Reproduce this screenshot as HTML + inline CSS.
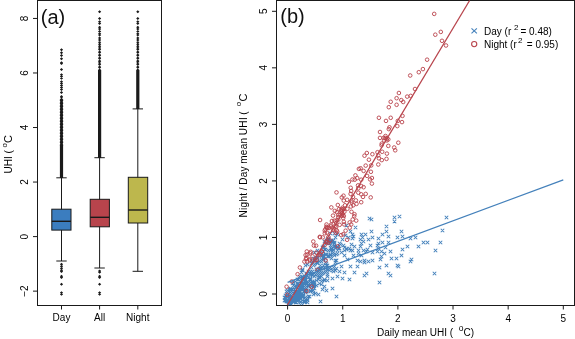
<!DOCTYPE html>
<html><head><meta charset="utf-8"><style>
html,body{margin:0;padding:0;background:#fff;}
svg{display:block;will-change:transform;}
text{white-space:pre;}
.t{font-family:"Liberation Sans",sans-serif;font-size:10px;fill:#000;}
.big{font-family:"Liberation Sans",sans-serif;font-size:20px;fill:#111;}
</style></head><body>
<svg width="575" height="339" viewBox="0 0 575 339">
<rect x="37.5" y="0.5" width="124" height="305" fill="none" stroke="#1a1a1a" stroke-width="1"/>
<line x1="33" y1="18.44" x2="37.5" y2="18.44" stroke="#1a1a1a" stroke-width="1"/>
<text transform="translate(27.8,18.44) rotate(-90)" text-anchor="middle" class="t">8</text>
<line x1="33" y1="72.98" x2="37.5" y2="72.98" stroke="#1a1a1a" stroke-width="1"/>
<text transform="translate(27.8,72.98) rotate(-90)" text-anchor="middle" class="t">6</text>
<line x1="33" y1="127.52" x2="37.5" y2="127.52" stroke="#1a1a1a" stroke-width="1"/>
<text transform="translate(27.8,127.52) rotate(-90)" text-anchor="middle" class="t">4</text>
<line x1="33" y1="182.06" x2="37.5" y2="182.06" stroke="#1a1a1a" stroke-width="1"/>
<text transform="translate(27.8,182.06) rotate(-90)" text-anchor="middle" class="t">2</text>
<line x1="33" y1="236.60" x2="37.5" y2="236.60" stroke="#1a1a1a" stroke-width="1"/>
<text transform="translate(27.8,236.60) rotate(-90)" text-anchor="middle" class="t">0</text>
<line x1="33" y1="291.14" x2="37.5" y2="291.14" stroke="#1a1a1a" stroke-width="1"/>
<text transform="translate(27.8,291.14) rotate(-90)" text-anchor="middle" class="t">−2</text>
<text transform="translate(12.2,173.5) rotate(-90)" class="t">UHI ( <tspan dy="-5" font-size="8">o</tspan><tspan dy="5" font-size="11">C</tspan></text>
<line x1="61.5" y1="305.5" x2="61.5" y2="309.5" stroke="#1a1a1a" stroke-width="1"/>
<text x="61.5" y="321.4" text-anchor="middle" class="t">Day</text>
<line x1="99.6" y1="305.5" x2="99.6" y2="309.5" stroke="#1a1a1a" stroke-width="1"/>
<text x="99.6" y="321.4" text-anchor="middle" class="t">All</text>
<line x1="137.8" y1="305.5" x2="137.8" y2="309.5" stroke="#1a1a1a" stroke-width="1"/>
<text x="137.8" y="321.4" text-anchor="middle" class="t">Night</text>
<text x="40.8" y="23.9" class="big">(a)</text>
<path d="M61.5,99V146" stroke="#1a1a1a" stroke-width="2.6"/>
<path d="M61.50,48.20L63.10,49.70L61.50,51.20L59.90,49.70ZM61.50,51.30L63.10,52.80L61.50,54.30L59.90,52.80ZM61.50,54.10L63.10,55.60L61.50,57.10L59.90,55.60ZM61.50,57.20L63.10,58.70L61.50,60.20L59.90,58.70ZM61.50,61.20L63.10,62.70L61.50,64.20L59.90,62.70ZM61.50,62.00L63.10,63.50L61.50,65.00L59.90,63.50ZM61.50,67.90L63.10,69.40L61.50,70.90L59.90,69.40ZM61.50,73.20L63.10,74.70L61.50,76.20L59.90,74.70ZM61.50,75.00L63.10,76.50L61.50,78.00L59.90,76.50ZM61.50,76.80L63.10,78.30L61.50,79.80L59.90,78.30ZM61.50,80.30L63.10,81.80L61.50,83.30L59.90,81.80ZM61.50,82.00L63.10,83.50L61.50,85.00L59.90,83.50ZM61.50,84.00L63.10,85.50L61.50,87.00L59.90,85.50ZM61.50,86.00L63.10,87.50L61.50,89.00L59.90,87.50ZM61.50,88.00L63.10,89.50L61.50,91.00L59.90,89.50ZM61.50,90.90L63.10,92.40L61.50,93.90L59.90,92.40ZM61.50,95.00L63.10,96.50L61.50,98.00L59.90,96.50ZM61.50,96.30L63.10,97.80L61.50,99.30L59.90,97.80ZM61.5,97.40L63.5,99.00L61.5,100.60L59.5,99.00ZM61.5,98.90L63.5,100.50L61.5,102.10L59.5,100.50ZM61.5,100.40L63.5,102.00L61.5,103.60L59.5,102.00ZM61.5,101.90L63.5,103.50L61.5,105.10L59.5,103.50ZM61.5,103.40L63.5,105.00L61.5,106.60L59.5,105.00ZM61.5,104.90L63.5,106.50L61.5,108.10L59.5,106.50ZM61.5,106.40L63.5,108.00L61.5,109.60L59.5,108.00ZM61.5,107.90L63.5,109.50L61.5,111.10L59.5,109.50ZM61.5,109.40L63.5,111.00L61.5,112.60L59.5,111.00ZM61.5,110.90L63.5,112.50L61.5,114.10L59.5,112.50ZM61.5,112.40L63.5,114.00L61.5,115.60L59.5,114.00ZM61.5,113.90L63.5,115.50L61.5,117.10L59.5,115.50ZM61.5,115.40L63.5,117.00L61.5,118.60L59.5,117.00ZM61.5,116.90L63.5,118.50L61.5,120.10L59.5,118.50ZM61.5,118.40L63.5,120.00L61.5,121.60L59.5,120.00ZM61.5,119.90L63.5,121.50L61.5,123.10L59.5,121.50ZM61.5,121.40L63.5,123.00L61.5,124.60L59.5,123.00ZM61.5,122.90L63.5,124.50L61.5,126.10L59.5,124.50ZM61.5,124.40L63.5,126.00L61.5,127.60L59.5,126.00ZM61.5,125.90L63.5,127.50L61.5,129.10L59.5,127.50ZM61.5,127.40L63.5,129.00L61.5,130.60L59.5,129.00ZM61.5,128.90L63.5,130.50L61.5,132.10L59.5,130.50ZM61.5,130.40L63.5,132.00L61.5,133.60L59.5,132.00ZM61.5,131.90L63.5,133.50L61.5,135.10L59.5,133.50ZM61.5,133.40L63.5,135.00L61.5,136.60L59.5,135.00ZM61.5,134.90L63.5,136.50L61.5,138.10L59.5,136.50ZM61.5,136.40L63.5,138.00L61.5,139.60L59.5,138.00ZM61.5,137.90L63.5,139.50L61.5,141.10L59.5,139.50ZM61.5,139.40L63.5,141.00L61.5,142.60L59.5,141.00ZM61.5,140.90L63.5,142.50L61.5,144.10L59.5,142.50ZM61.5,142.40L63.5,144.00L61.5,145.60L59.5,144.00ZM61.5,143.90L63.5,145.50L61.5,147.10L59.5,145.50ZM61.50,262.80L63.10,264.30L61.50,265.80L59.90,264.30ZM61.50,264.80L63.10,266.30L61.50,267.80L59.90,266.30ZM61.50,266.80L63.10,268.30L61.50,269.80L59.90,268.30ZM61.50,268.80L63.10,270.30L61.50,271.80L59.90,270.30ZM61.50,270.10L63.10,271.60L61.50,273.10L59.90,271.60ZM61.50,274.70L63.10,276.20L61.50,277.70L59.90,276.20ZM61.50,276.10L63.10,277.60L61.50,279.10L59.90,277.60ZM61.50,282.70L63.10,284.20L61.50,285.70L59.90,284.20ZM61.50,291.30L63.10,292.80L61.50,294.30L59.90,292.80ZM61.50,292.70L63.10,294.20L61.50,295.70L59.90,294.20ZM99.60,10.20L101.20,11.70L99.60,13.20L98.00,11.70ZM99.60,17.00L101.20,18.50L99.60,20.00L98.00,18.50ZM99.60,20.30L101.20,21.80L99.60,23.30L98.00,21.80ZM99.60,22.10L101.20,23.60L99.60,25.10L98.00,23.60ZM99.60,25.80L101.20,27.30L99.60,28.80L98.00,27.30ZM99.60,27.50L101.20,29.00L99.60,30.50L98.00,29.00ZM99.60,30.00L101.20,31.50L99.60,33.00L98.00,31.50ZM99.60,31.80L101.20,33.30L99.60,34.80L98.00,33.30ZM99.60,33.50L101.20,35.00L99.60,36.50L98.00,35.00ZM99.60,36.50L101.20,38.00L99.60,39.50L98.00,38.00ZM99.60,38.50L101.20,40.00L99.60,41.50L98.00,40.00ZM99.60,40.70L101.20,42.20L99.60,43.70L98.00,42.20ZM99.60,42.70L101.20,44.20L99.60,45.70L98.00,44.20ZM99.60,44.70L101.20,46.20L99.60,47.70L98.00,46.20ZM99.60,46.50L101.20,48.00L99.60,49.50L98.00,48.00ZM99.60,48.00L101.20,49.50L99.60,51.00L98.00,49.50ZM99.60,49.50L101.20,51.00L99.60,52.50L98.00,51.00ZM99.60,51.00L101.20,52.50L99.60,54.00L98.00,52.50ZM99.60,52.50L101.20,54.00L99.60,55.50L98.00,54.00ZM99.60,54.00L101.20,55.50L99.60,57.00L98.00,55.50ZM99.60,55.50L101.20,57.00L99.60,58.50L98.00,57.00ZM99.60,57.00L101.20,58.50L99.60,60.00L98.00,58.50ZM99.60,58.50L101.20,60.00L99.60,61.50L98.00,60.00ZM99.60,60.00L101.20,61.50L99.60,63.00L98.00,61.50ZM99.60,61.50L101.20,63.00L99.60,64.50L98.00,63.00ZM99.60,63.00L101.20,64.50L99.60,66.00L98.00,64.50ZM99.60,64.50L101.20,66.00L99.60,67.50L98.00,66.00ZM99.60,66.00L101.20,67.50L99.60,69.00L98.00,67.50ZM99.60,67.50L101.20,69.00L99.60,70.50L98.00,69.00ZM99.60,269.40L101.20,270.90L99.60,272.40L98.00,270.90ZM99.60,270.80L101.20,272.30L99.60,273.80L98.00,272.30ZM99.60,274.70L101.20,276.20L99.60,277.70L98.00,276.20ZM99.60,276.10L101.20,277.60L99.60,279.10L98.00,277.60ZM99.60,282.70L101.20,284.20L99.60,285.70L98.00,284.20ZM99.60,291.30L101.20,292.80L99.60,294.30L98.00,292.80ZM99.60,292.70L101.20,294.20L99.60,295.70L98.00,294.20ZM137.80,10.20L139.40,11.70L137.80,13.20L136.20,11.70ZM137.80,17.00L139.40,18.50L137.80,20.00L136.20,18.50ZM137.80,20.30L139.40,21.80L137.80,23.30L136.20,21.80ZM137.80,22.10L139.40,23.60L137.80,25.10L136.20,23.60ZM137.80,25.80L139.40,27.30L137.80,28.80L136.20,27.30ZM137.80,27.50L139.40,29.00L137.80,30.50L136.20,29.00ZM137.80,30.00L139.40,31.50L137.80,33.00L136.20,31.50ZM137.80,31.80L139.40,33.30L137.80,34.80L136.20,33.30ZM137.80,33.50L139.40,35.00L137.80,36.50L136.20,35.00ZM137.80,36.50L139.40,38.00L137.80,39.50L136.20,38.00ZM137.80,38.50L139.40,40.00L137.80,41.50L136.20,40.00ZM137.80,40.70L139.40,42.20L137.80,43.70L136.20,42.20ZM137.80,42.70L139.40,44.20L137.80,45.70L136.20,44.20ZM137.80,44.70L139.40,46.20L137.80,47.70L136.20,46.20ZM137.80,46.50L139.40,48.00L137.80,49.50L136.20,48.00ZM137.80,48.00L139.40,49.50L137.80,51.00L136.20,49.50ZM137.80,49.50L139.40,51.00L137.80,52.50L136.20,51.00ZM137.80,51.00L139.40,52.50L137.80,54.00L136.20,52.50ZM137.80,52.50L139.40,54.00L137.80,55.50L136.20,54.00ZM137.80,54.00L139.40,55.50L137.80,57.00L136.20,55.50ZM137.80,55.50L139.40,57.00L137.80,58.50L136.20,57.00ZM137.80,57.00L139.40,58.50L137.80,60.00L136.20,58.50ZM137.80,58.50L139.40,60.00L137.80,61.50L136.20,60.00ZM137.80,60.00L139.40,61.50L137.80,63.00L136.20,61.50ZM137.80,61.50L139.40,63.00L137.80,64.50L136.20,63.00ZM137.80,63.00L139.40,64.50L137.80,66.00L136.20,64.50ZM137.80,64.50L139.40,66.00L137.80,67.50L136.20,66.00ZM137.80,66.00L139.40,67.50L137.80,69.00L136.20,67.50ZM137.80,67.50L139.40,69.00L137.80,70.50L136.20,69.00Z" stroke="none" fill="#1a1a1a"/>
<path d="M61.5,146V178M99.6,70V158M137.8,70V109" stroke="#1a1a1a" stroke-width="3.2" fill="none"/>
<line x1="61.5" y1="177.8" x2="61.5" y2="261" stroke="#1a1a1a" stroke-width="1"/>
<line x1="56.3" y1="177.8" x2="66.7" y2="177.8" stroke="#1a1a1a" stroke-width="1"/>
<line x1="56.3" y1="261" x2="66.7" y2="261" stroke="#1a1a1a" stroke-width="1"/>
<rect x="51.8" y="209.2" width="19.200000000000003" height="20.900000000000006" fill="#3b7dbf" stroke="#1a1a1a" stroke-width="1"/>
<line x1="51.8" y1="221.3" x2="71" y2="221.3" stroke="#1a1a1a" stroke-width="1.4"/>
<line x1="99.6" y1="157.7" x2="99.6" y2="268" stroke="#1a1a1a" stroke-width="1"/>
<line x1="94.39999999999999" y1="157.7" x2="104.8" y2="157.7" stroke="#1a1a1a" stroke-width="1"/>
<line x1="94.39999999999999" y1="268" x2="104.8" y2="268" stroke="#1a1a1a" stroke-width="1"/>
<rect x="90.2" y="199.3" width="19.200000000000003" height="27.5" fill="#b8444c" stroke="#1a1a1a" stroke-width="1"/>
<line x1="90.2" y1="217.3" x2="109.4" y2="217.3" stroke="#1a1a1a" stroke-width="1.4"/>
<line x1="137.8" y1="108.9" x2="137.8" y2="271.3" stroke="#1a1a1a" stroke-width="1"/>
<line x1="132.60000000000002" y1="108.9" x2="143.0" y2="108.9" stroke="#1a1a1a" stroke-width="1"/>
<line x1="132.60000000000002" y1="271.3" x2="143.0" y2="271.3" stroke="#1a1a1a" stroke-width="1"/>
<rect x="128.3" y="177.3" width="19.399999999999977" height="45.69999999999999" fill="#bdb74d" stroke="#1a1a1a" stroke-width="1"/>
<line x1="128.3" y1="210" x2="147.7" y2="210" stroke="#1a1a1a" stroke-width="1.4"/>
<rect x="276.5" y="0.5" width="298" height="305" fill="none" stroke="#1a1a1a" stroke-width="1"/>
<line x1="287.60" y1="305.5" x2="287.60" y2="309.5" stroke="#1a1a1a" stroke-width="1"/>
<text x="287.60" y="322" text-anchor="middle" class="t">0</text>
<line x1="272" y1="294.00" x2="276.5" y2="294.00" stroke="#1a1a1a" stroke-width="1"/>
<text transform="translate(267,294.00) rotate(-90)" text-anchor="middle" class="t">0</text>
<line x1="342.74" y1="305.5" x2="342.74" y2="309.5" stroke="#1a1a1a" stroke-width="1"/>
<text x="342.74" y="322" text-anchor="middle" class="t">1</text>
<line x1="272" y1="237.46" x2="276.5" y2="237.46" stroke="#1a1a1a" stroke-width="1"/>
<text transform="translate(267,237.46) rotate(-90)" text-anchor="middle" class="t">1</text>
<line x1="397.88" y1="305.5" x2="397.88" y2="309.5" stroke="#1a1a1a" stroke-width="1"/>
<text x="397.88" y="322" text-anchor="middle" class="t">2</text>
<line x1="272" y1="180.92" x2="276.5" y2="180.92" stroke="#1a1a1a" stroke-width="1"/>
<text transform="translate(267,180.92) rotate(-90)" text-anchor="middle" class="t">2</text>
<line x1="453.02" y1="305.5" x2="453.02" y2="309.5" stroke="#1a1a1a" stroke-width="1"/>
<text x="453.02" y="322" text-anchor="middle" class="t">3</text>
<line x1="272" y1="124.38" x2="276.5" y2="124.38" stroke="#1a1a1a" stroke-width="1"/>
<text transform="translate(267,124.38) rotate(-90)" text-anchor="middle" class="t">3</text>
<line x1="508.16" y1="305.5" x2="508.16" y2="309.5" stroke="#1a1a1a" stroke-width="1"/>
<text x="508.16" y="322" text-anchor="middle" class="t">4</text>
<line x1="272" y1="67.84" x2="276.5" y2="67.84" stroke="#1a1a1a" stroke-width="1"/>
<text transform="translate(267,67.84) rotate(-90)" text-anchor="middle" class="t">4</text>
<line x1="563.30" y1="305.5" x2="563.30" y2="309.5" stroke="#1a1a1a" stroke-width="1"/>
<text x="563.30" y="322" text-anchor="middle" class="t">5</text>
<line x1="272" y1="11.30" x2="276.5" y2="11.30" stroke="#1a1a1a" stroke-width="1"/>
<text transform="translate(267,11.30) rotate(-90)" text-anchor="middle" class="t">5</text>
<text x="377" y="336" class="t">Daily mean UHI (  <tspan dy="-5.5" font-size="8.5">o</tspan><tspan dy="5.5">C)</tspan></text>
<text transform="translate(246.6,217.5) rotate(-90)" class="t" letter-spacing="0.3" word-spacing="-0.7">Night / Day mean UHI (  <tspan dy="-5.5" font-size="8">o</tspan><tspan dy="5.5" font-size="11">C</tspan></text>
<text x="280.3" y="23.2" class="big">(b)</text>
<path d="M328.75,231.75l3.5,3.5m0,-3.5l-3.5,3.5M332.75,231.75l3.5,3.5m0,-3.5l-3.5,3.5M369.75,217.75l3.5,3.5m0,-3.5l-3.5,3.5M353.75,225.75l3.5,3.5m0,-3.5l-3.5,3.5M344.75,223.75l3.5,3.5m0,-3.5l-3.5,3.5M348.75,229.75l3.5,3.5m0,-3.5l-3.5,3.5M369.75,229.75l3.5,3.5m0,-3.5l-3.5,3.5M350.75,232.75l3.5,3.5m0,-3.5l-3.5,3.5M359.75,232.75l3.5,3.5m0,-3.5l-3.5,3.5M363.75,232.75l3.5,3.5m0,-3.5l-3.5,3.5M370.75,235.75l3.5,3.5m0,-3.5l-3.5,3.5M360.75,235.75l3.5,3.5m0,-3.5l-3.5,3.5M343.75,233.75l3.5,3.5m0,-3.5l-3.5,3.5M335.75,232.75l3.5,3.5m0,-3.5l-3.5,3.5M397.75,214.75l3.5,3.5m0,-3.5l-3.5,3.5M392.75,215.75l3.5,3.5m0,-3.5l-3.5,3.5M392.75,219.75l3.5,3.5m0,-3.5l-3.5,3.5M384.75,224.75l3.5,3.5m0,-3.5l-3.5,3.5M384.75,229.75l3.5,3.5m0,-3.5l-3.5,3.5M399.75,229.75l3.5,3.5m0,-3.5l-3.5,3.5M380.75,232.75l3.5,3.5m0,-3.5l-3.5,3.5M386.75,234.75l3.5,3.5m0,-3.5l-3.5,3.5M376.75,236.75l3.5,3.5m0,-3.5l-3.5,3.5M395.75,235.75l3.5,3.5m0,-3.5l-3.5,3.5M400.75,234.75l3.5,3.5m0,-3.5l-3.5,3.5M408.75,236.75l3.5,3.5m0,-3.5l-3.5,3.5M413.75,235.75l3.5,3.5m0,-3.5l-3.5,3.5M421.75,240.75l3.5,3.5m0,-3.5l-3.5,3.5M425.75,240.75l3.5,3.5m0,-3.5l-3.5,3.5M386.75,240.75l3.5,3.5m0,-3.5l-3.5,3.5M376.75,241.75l3.5,3.5m0,-3.5l-3.5,3.5M380.75,240.75l3.5,3.5m0,-3.5l-3.5,3.5M368.75,243.75l3.5,3.5m0,-3.5l-3.5,3.5M405.75,244.75l3.5,3.5m0,-3.5l-3.5,3.5M416.75,244.75l3.5,3.5m0,-3.5l-3.5,3.5M383.75,245.75l3.5,3.5m0,-3.5l-3.5,3.5M376.75,246.75l3.5,3.5m0,-3.5l-3.5,3.5M400.75,247.75l3.5,3.5m0,-3.5l-3.5,3.5M379.75,249.75l3.5,3.5m0,-3.5l-3.5,3.5M375.75,249.75l3.5,3.5m0,-3.5l-3.5,3.5M388.75,249.75l3.5,3.5m0,-3.5l-3.5,3.5M382.75,251.75l3.5,3.5m0,-3.5l-3.5,3.5M370.75,250.75l3.5,3.5m0,-3.5l-3.5,3.5M399.75,253.75l3.5,3.5m0,-3.5l-3.5,3.5M379.75,254.75l3.5,3.5m0,-3.5l-3.5,3.5M389.75,256.75l3.5,3.5m0,-3.5l-3.5,3.5M394.75,256.75l3.5,3.5m0,-3.5l-3.5,3.5M409.75,257.75l3.5,3.5m0,-3.5l-3.5,3.5M444.75,215.75l3.5,3.5m0,-3.5l-3.5,3.5M440.75,228.75l3.5,3.5m0,-3.5l-3.5,3.5M438.75,240.75l3.5,3.5m0,-3.5l-3.5,3.5M433.75,248.75l3.5,3.5m0,-3.5l-3.5,3.5M432.75,271.75l3.5,3.5m0,-3.5l-3.5,3.5M359.75,253.75l3.5,3.5m0,-3.5l-3.5,3.5M378.75,257.75l3.5,3.5m0,-3.5l-3.5,3.5M408.75,259.75l3.5,3.5m0,-3.5l-3.5,3.5M370.75,258.75l3.5,3.5m0,-3.5l-3.5,3.5M366.75,259.75l3.5,3.5m0,-3.5l-3.5,3.5M362.75,260.75l3.5,3.5m0,-3.5l-3.5,3.5M358.75,259.75l3.5,3.5m0,-3.5l-3.5,3.5M384.75,263.75l3.5,3.5m0,-3.5l-3.5,3.5M377.75,265.75l3.5,3.5m0,-3.5l-3.5,3.5M395.75,263.75l3.5,3.5m0,-3.5l-3.5,3.5M396.75,264.75l3.5,3.5m0,-3.5l-3.5,3.5M386.75,271.75l3.5,3.5m0,-3.5l-3.5,3.5M388.75,273.75l3.5,3.5m0,-3.5l-3.5,3.5M364.75,271.75l3.5,3.5m0,-3.5l-3.5,3.5M362.75,273.75l3.5,3.5m0,-3.5l-3.5,3.5M377.75,280.75l3.5,3.5m0,-3.5l-3.5,3.5M318.75,299.75l3.5,3.5m0,-3.5l-3.5,3.5M305.75,295.75l3.5,3.5m0,-3.5l-3.5,3.5M298.75,292.75l3.5,3.5m0,-3.5l-3.5,3.5M285.75,297.75l3.5,3.5m0,-3.5l-3.5,3.5M310.75,289.75l3.5,3.5m0,-3.5l-3.5,3.5M319.75,282.75l3.5,3.5m0,-3.5l-3.5,3.5M350.75,236.75l3.5,3.5m0,-3.5l-3.5,3.5M340.75,237.75l3.5,3.5m0,-3.5l-3.5,3.5M359.75,241.75l3.5,3.5m0,-3.5l-3.5,3.5M342.75,245.75l3.5,3.5m0,-3.5l-3.5,3.5M352.75,244.75l3.5,3.5m0,-3.5l-3.5,3.5M375.75,243.75l3.5,3.5m0,-3.5l-3.5,3.5M335.75,248.75l3.5,3.5m0,-3.5l-3.5,3.5M348.75,248.75l3.5,3.5m0,-3.5l-3.5,3.5M356.75,248.75l3.5,3.5m0,-3.5l-3.5,3.5M364.75,249.75l3.5,3.5m0,-3.5l-3.5,3.5M332.75,253.75l3.5,3.5m0,-3.5l-3.5,3.5M342.75,253.75l3.5,3.5m0,-3.5l-3.5,3.5M351.75,253.75l3.5,3.5m0,-3.5l-3.5,3.5M334.75,258.75l3.5,3.5m0,-3.5l-3.5,3.5M345.75,257.75l3.5,3.5m0,-3.5l-3.5,3.5M355.75,258.75l3.5,3.5m0,-3.5l-3.5,3.5M362.75,258.75l3.5,3.5m0,-3.5l-3.5,3.5M348.75,264.75l3.5,3.5m0,-3.5l-3.5,3.5M332.75,264.75l3.5,3.5m0,-3.5l-3.5,3.5M339.75,264.75l3.5,3.5m0,-3.5l-3.5,3.5M355.75,264.75l3.5,3.5m0,-3.5l-3.5,3.5M342.75,270.75l3.5,3.5m0,-3.5l-3.5,3.5M352.75,270.75l3.5,3.5m0,-3.5l-3.5,3.5M331.75,269.75l3.5,3.5m0,-3.5l-3.5,3.5M335.75,274.75l3.5,3.5m0,-3.5l-3.5,3.5M340.75,276.75l3.5,3.5m0,-3.5l-3.5,3.5M347.75,277.75l3.5,3.5m0,-3.5l-3.5,3.5M330.75,276.75l3.5,3.5m0,-3.5l-3.5,3.5M330.75,286.75l3.5,3.5m0,-3.5l-3.5,3.5M334.75,294.75l3.5,3.5m0,-3.5l-3.5,3.5M351.75,234.75l3.5,3.5m0,-3.5l-3.5,3.5M333.75,235.75l3.5,3.5m0,-3.5l-3.5,3.5M346.75,235.75l3.5,3.5m0,-3.5l-3.5,3.5M358.75,237.75l3.5,3.5m0,-3.5l-3.5,3.5M361.75,239.75l3.5,3.5m0,-3.5l-3.5,3.5M366.75,237.75l3.5,3.5m0,-3.5l-3.5,3.5M349.75,242.75l3.5,3.5m0,-3.5l-3.5,3.5M358.75,244.75l3.5,3.5m0,-3.5l-3.5,3.5M335.75,245.75l3.5,3.5m0,-3.5l-3.5,3.5M331.75,247.75l3.5,3.5m0,-3.5l-3.5,3.5M350.75,248.75l3.5,3.5m0,-3.5l-3.5,3.5M361.75,248.75l3.5,3.5m0,-3.5l-3.5,3.5M365.75,247.75l3.5,3.5m0,-3.5l-3.5,3.5M339.75,250.75l3.5,3.5m0,-3.5l-3.5,3.5M356.75,251.75l3.5,3.5m0,-3.5l-3.5,3.5M329.75,244.75l3.5,3.5m0,-3.5l-3.5,3.5M367.75,216.75l3.5,3.5m0,-3.5l-3.5,3.5M303.75,290.75l3.5,3.5m0,-3.5l-3.5,3.5M306.75,272.75l3.5,3.5m0,-3.5l-3.5,3.5M308.75,276.75l3.5,3.5m0,-3.5l-3.5,3.5M286.75,299.75l3.5,3.5m0,-3.5l-3.5,3.5M291.75,299.75l3.5,3.5m0,-3.5l-3.5,3.5M304.75,281.75l3.5,3.5m0,-3.5l-3.5,3.5M291.75,291.75l3.5,3.5m0,-3.5l-3.5,3.5M320.75,271.75l3.5,3.5m0,-3.5l-3.5,3.5M298.75,281.75l3.5,3.5m0,-3.5l-3.5,3.5M344.75,247.75l3.5,3.5m0,-3.5l-3.5,3.5M300.75,291.75l3.5,3.5m0,-3.5l-3.5,3.5M295.75,299.75l3.5,3.5m0,-3.5l-3.5,3.5M326.75,254.75l3.5,3.5m0,-3.5l-3.5,3.5M285.75,290.75l3.5,3.5m0,-3.5l-3.5,3.5M296.75,281.75l3.5,3.5m0,-3.5l-3.5,3.5M310.75,273.75l3.5,3.5m0,-3.5l-3.5,3.5M294.75,294.75l3.5,3.5m0,-3.5l-3.5,3.5M310.75,259.75l3.5,3.5m0,-3.5l-3.5,3.5M312.75,271.75l3.5,3.5m0,-3.5l-3.5,3.5M300.75,276.75l3.5,3.5m0,-3.5l-3.5,3.5M327.75,268.75l3.5,3.5m0,-3.5l-3.5,3.5M288.75,287.75l3.5,3.5m0,-3.5l-3.5,3.5M321.75,245.75l3.5,3.5m0,-3.5l-3.5,3.5M313.75,256.75l3.5,3.5m0,-3.5l-3.5,3.5M302.75,281.75l3.5,3.5m0,-3.5l-3.5,3.5M302.75,274.75l3.5,3.5m0,-3.5l-3.5,3.5M283.75,298.75l3.5,3.5m0,-3.5l-3.5,3.5M321.75,245.75l3.5,3.5m0,-3.5l-3.5,3.5M319.75,274.75l3.5,3.5m0,-3.5l-3.5,3.5M332.75,244.75l3.5,3.5m0,-3.5l-3.5,3.5M303.75,276.75l3.5,3.5m0,-3.5l-3.5,3.5M314.75,260.75l3.5,3.5m0,-3.5l-3.5,3.5M325.75,272.75l3.5,3.5m0,-3.5l-3.5,3.5M296.75,289.75l3.5,3.5m0,-3.5l-3.5,3.5M300.75,282.75l3.5,3.5m0,-3.5l-3.5,3.5M303.75,277.75l3.5,3.5m0,-3.5l-3.5,3.5M294.75,296.75l3.5,3.5m0,-3.5l-3.5,3.5M321.75,257.75l3.5,3.5m0,-3.5l-3.5,3.5M291.75,297.75l3.5,3.5m0,-3.5l-3.5,3.5M331.75,252.75l3.5,3.5m0,-3.5l-3.5,3.5M282.75,295.75l3.5,3.5m0,-3.5l-3.5,3.5M328.75,248.75l3.5,3.5m0,-3.5l-3.5,3.5M325.75,254.75l3.5,3.5m0,-3.5l-3.5,3.5M298.75,279.75l3.5,3.5m0,-3.5l-3.5,3.5M311.75,292.75l3.5,3.5m0,-3.5l-3.5,3.5M293.75,295.75l3.5,3.5m0,-3.5l-3.5,3.5M310.75,279.75l3.5,3.5m0,-3.5l-3.5,3.5M310.75,269.75l3.5,3.5m0,-3.5l-3.5,3.5M303.75,281.75l3.5,3.5m0,-3.5l-3.5,3.5M309.75,258.75l3.5,3.5m0,-3.5l-3.5,3.5M299.75,270.75l3.5,3.5m0,-3.5l-3.5,3.5M283.75,296.75l3.5,3.5m0,-3.5l-3.5,3.5M329.75,247.75l3.5,3.5m0,-3.5l-3.5,3.5M299.75,281.75l3.5,3.5m0,-3.5l-3.5,3.5M314.75,267.75l3.5,3.5m0,-3.5l-3.5,3.5M294.75,296.75l3.5,3.5m0,-3.5l-3.5,3.5M299.75,286.75l3.5,3.5m0,-3.5l-3.5,3.5M292.75,296.75l3.5,3.5m0,-3.5l-3.5,3.5M289.75,298.75l3.5,3.5m0,-3.5l-3.5,3.5M326.75,248.75l3.5,3.5m0,-3.5l-3.5,3.5M314.75,269.75l3.5,3.5m0,-3.5l-3.5,3.5M303.75,287.75l3.5,3.5m0,-3.5l-3.5,3.5M308.75,289.75l3.5,3.5m0,-3.5l-3.5,3.5M341.75,243.75l3.5,3.5m0,-3.5l-3.5,3.5M302.75,276.75l3.5,3.5m0,-3.5l-3.5,3.5M290.75,298.75l3.5,3.5m0,-3.5l-3.5,3.5M298.75,285.75l3.5,3.5m0,-3.5l-3.5,3.5M289.75,295.75l3.5,3.5m0,-3.5l-3.5,3.5M316.75,277.75l3.5,3.5m0,-3.5l-3.5,3.5M332.75,240.75l3.5,3.5m0,-3.5l-3.5,3.5M323.75,247.75l3.5,3.5m0,-3.5l-3.5,3.5M295.75,281.75l3.5,3.5m0,-3.5l-3.5,3.5M293.75,296.75l3.5,3.5m0,-3.5l-3.5,3.5M312.75,250.75l3.5,3.5m0,-3.5l-3.5,3.5M300.75,287.75l3.5,3.5m0,-3.5l-3.5,3.5M344.75,246.75l3.5,3.5m0,-3.5l-3.5,3.5M328.75,252.75l3.5,3.5m0,-3.5l-3.5,3.5M289.75,289.75l3.5,3.5m0,-3.5l-3.5,3.5M288.75,301.75l3.5,3.5m0,-3.5l-3.5,3.5M287.75,300.75l3.5,3.5m0,-3.5l-3.5,3.5M320.75,265.75l3.5,3.5m0,-3.5l-3.5,3.5M337.75,241.75l3.5,3.5m0,-3.5l-3.5,3.5M326.75,239.75l3.5,3.5m0,-3.5l-3.5,3.5M297.75,294.75l3.5,3.5m0,-3.5l-3.5,3.5M296.75,295.75l3.5,3.5m0,-3.5l-3.5,3.5M335.75,251.75l3.5,3.5m0,-3.5l-3.5,3.5M322.75,254.75l3.5,3.5m0,-3.5l-3.5,3.5M283.75,295.75l3.5,3.5m0,-3.5l-3.5,3.5M314.75,255.75l3.5,3.5m0,-3.5l-3.5,3.5M321.75,255.75l3.5,3.5m0,-3.5l-3.5,3.5M304.75,289.75l3.5,3.5m0,-3.5l-3.5,3.5M311.75,288.75l3.5,3.5m0,-3.5l-3.5,3.5M289.75,293.75l3.5,3.5m0,-3.5l-3.5,3.5M333.75,260.75l3.5,3.5m0,-3.5l-3.5,3.5M299.75,301.75l3.5,3.5m0,-3.5l-3.5,3.5M296.75,283.75l3.5,3.5m0,-3.5l-3.5,3.5M287.75,301.75l3.5,3.5m0,-3.5l-3.5,3.5M325.75,237.75l3.5,3.5m0,-3.5l-3.5,3.5M322.75,239.75l3.5,3.5m0,-3.5l-3.5,3.5M311.75,285.75l3.5,3.5m0,-3.5l-3.5,3.5M285.75,288.75l3.5,3.5m0,-3.5l-3.5,3.5M294.75,290.75l3.5,3.5m0,-3.5l-3.5,3.5M315.75,272.75l3.5,3.5m0,-3.5l-3.5,3.5M293.75,289.75l3.5,3.5m0,-3.5l-3.5,3.5M329.75,246.75l3.5,3.5m0,-3.5l-3.5,3.5M291.75,280.75l3.5,3.5m0,-3.5l-3.5,3.5M329.75,246.75l3.5,3.5m0,-3.5l-3.5,3.5M309.75,284.75l3.5,3.5m0,-3.5l-3.5,3.5M304.75,271.75l3.5,3.5m0,-3.5l-3.5,3.5M314.75,278.75l3.5,3.5m0,-3.5l-3.5,3.5M293.75,295.75l3.5,3.5m0,-3.5l-3.5,3.5M301.75,275.75l3.5,3.5m0,-3.5l-3.5,3.5M311.75,256.75l3.5,3.5m0,-3.5l-3.5,3.5M305.75,273.75l3.5,3.5m0,-3.5l-3.5,3.5M309.75,272.75l3.5,3.5m0,-3.5l-3.5,3.5M306.75,269.75l3.5,3.5m0,-3.5l-3.5,3.5M293.75,290.75l3.5,3.5m0,-3.5l-3.5,3.5M317.75,281.75l3.5,3.5m0,-3.5l-3.5,3.5M310.75,272.75l3.5,3.5m0,-3.5l-3.5,3.5M303.75,263.75l3.5,3.5m0,-3.5l-3.5,3.5M315.75,261.75l3.5,3.5m0,-3.5l-3.5,3.5M297.75,274.75l3.5,3.5m0,-3.5l-3.5,3.5M327.75,241.75l3.5,3.5m0,-3.5l-3.5,3.5M327.75,268.75l3.5,3.5m0,-3.5l-3.5,3.5M320.75,278.75l3.5,3.5m0,-3.5l-3.5,3.5M287.75,294.75l3.5,3.5m0,-3.5l-3.5,3.5M288.75,296.75l3.5,3.5m0,-3.5l-3.5,3.5M296.75,292.75l3.5,3.5m0,-3.5l-3.5,3.5M284.75,296.75l3.5,3.5m0,-3.5l-3.5,3.5M290.75,295.75l3.5,3.5m0,-3.5l-3.5,3.5M330.75,249.75l3.5,3.5m0,-3.5l-3.5,3.5M328.75,240.75l3.5,3.5m0,-3.5l-3.5,3.5M324.75,252.75l3.5,3.5m0,-3.5l-3.5,3.5M285.75,292.75l3.5,3.5m0,-3.5l-3.5,3.5M302.75,288.75l3.5,3.5m0,-3.5l-3.5,3.5M289.75,291.75l3.5,3.5m0,-3.5l-3.5,3.5M307.75,271.75l3.5,3.5m0,-3.5l-3.5,3.5M299.75,286.75l3.5,3.5m0,-3.5l-3.5,3.5M309.75,265.75l3.5,3.5m0,-3.5l-3.5,3.5M331.75,238.75l3.5,3.5m0,-3.5l-3.5,3.5M323.75,256.75l3.5,3.5m0,-3.5l-3.5,3.5M295.75,290.75l3.5,3.5m0,-3.5l-3.5,3.5M286.75,294.75l3.5,3.5m0,-3.5l-3.5,3.5M312.75,286.75l3.5,3.5m0,-3.5l-3.5,3.5M289.75,287.75l3.5,3.5m0,-3.5l-3.5,3.5M298.75,300.75l3.5,3.5m0,-3.5l-3.5,3.5M312.75,258.75l3.5,3.5m0,-3.5l-3.5,3.5M306.75,282.75l3.5,3.5m0,-3.5l-3.5,3.5M317.75,251.75l3.5,3.5m0,-3.5l-3.5,3.5M291.75,300.75l3.5,3.5m0,-3.5l-3.5,3.5M322.75,247.75l3.5,3.5m0,-3.5l-3.5,3.5M299.75,276.75l3.5,3.5m0,-3.5l-3.5,3.5M335.75,248.75l3.5,3.5m0,-3.5l-3.5,3.5M301.75,293.75l3.5,3.5m0,-3.5l-3.5,3.5M300.75,295.75l3.5,3.5m0,-3.5l-3.5,3.5M291.75,299.75l3.5,3.5m0,-3.5l-3.5,3.5M295.75,294.75l3.5,3.5m0,-3.5l-3.5,3.5M294.75,285.75l3.5,3.5m0,-3.5l-3.5,3.5M306.75,294.75l3.5,3.5m0,-3.5l-3.5,3.5M308.75,277.75l3.5,3.5m0,-3.5l-3.5,3.5M305.75,297.75l3.5,3.5m0,-3.5l-3.5,3.5M309.75,272.75l3.5,3.5m0,-3.5l-3.5,3.5M292.75,299.75l3.5,3.5m0,-3.5l-3.5,3.5M315.75,248.75l3.5,3.5m0,-3.5l-3.5,3.5M326.75,253.75l3.5,3.5m0,-3.5l-3.5,3.5M331.75,238.75l3.5,3.5m0,-3.5l-3.5,3.5M304.75,288.75l3.5,3.5m0,-3.5l-3.5,3.5M300.75,281.75l3.5,3.5m0,-3.5l-3.5,3.5M293.75,298.75l3.5,3.5m0,-3.5l-3.5,3.5M289.75,299.75l3.5,3.5m0,-3.5l-3.5,3.5M287.75,293.75l3.5,3.5m0,-3.5l-3.5,3.5M297.75,289.75l3.5,3.5m0,-3.5l-3.5,3.5M309.75,281.75l3.5,3.5m0,-3.5l-3.5,3.5M287.75,293.75l3.5,3.5m0,-3.5l-3.5,3.5M332.75,241.75l3.5,3.5m0,-3.5l-3.5,3.5M326.75,236.75l3.5,3.5m0,-3.5l-3.5,3.5M329.75,239.75l3.5,3.5m0,-3.5l-3.5,3.5M297.75,287.75l3.5,3.5m0,-3.5l-3.5,3.5M301.75,283.75l3.5,3.5m0,-3.5l-3.5,3.5M300.75,275.75l3.5,3.5m0,-3.5l-3.5,3.5M306.75,275.75l3.5,3.5m0,-3.5l-3.5,3.5M304.75,284.75l3.5,3.5m0,-3.5l-3.5,3.5M295.75,292.75l3.5,3.5m0,-3.5l-3.5,3.5M311.75,263.75l3.5,3.5m0,-3.5l-3.5,3.5M321.75,263.75l3.5,3.5m0,-3.5l-3.5,3.5M294.75,284.75l3.5,3.5m0,-3.5l-3.5,3.5M338.75,242.75l3.5,3.5m0,-3.5l-3.5,3.5M321.75,270.75l3.5,3.5m0,-3.5l-3.5,3.5M319.75,259.75l3.5,3.5m0,-3.5l-3.5,3.5M304.75,272.75l3.5,3.5m0,-3.5l-3.5,3.5M312.75,279.75l3.5,3.5m0,-3.5l-3.5,3.5M317.75,274.75l3.5,3.5m0,-3.5l-3.5,3.5M309.75,258.75l3.5,3.5m0,-3.5l-3.5,3.5M298.75,294.75l3.5,3.5m0,-3.5l-3.5,3.5M300.75,285.75l3.5,3.5m0,-3.5l-3.5,3.5M294.75,300.75l3.5,3.5m0,-3.5l-3.5,3.5M305.75,262.75l3.5,3.5m0,-3.5l-3.5,3.5M309.75,265.75l3.5,3.5m0,-3.5l-3.5,3.5M282.75,298.75l3.5,3.5m0,-3.5l-3.5,3.5M321.75,253.75l3.5,3.5m0,-3.5l-3.5,3.5M300.75,268.75l3.5,3.5m0,-3.5l-3.5,3.5M323.75,270.75l3.5,3.5m0,-3.5l-3.5,3.5M299.75,293.75l3.5,3.5m0,-3.5l-3.5,3.5M288.75,299.75l3.5,3.5m0,-3.5l-3.5,3.5M303.75,299.75l3.5,3.5m0,-3.5l-3.5,3.5M325.75,263.75l3.5,3.5m0,-3.5l-3.5,3.5M299.75,282.75l3.5,3.5m0,-3.5l-3.5,3.5M300.75,274.75l3.5,3.5m0,-3.5l-3.5,3.5M316.75,267.75l3.5,3.5m0,-3.5l-3.5,3.5M297.75,292.75l3.5,3.5m0,-3.5l-3.5,3.5M315.75,256.75l3.5,3.5m0,-3.5l-3.5,3.5M288.75,299.75l3.5,3.5m0,-3.5l-3.5,3.5M325.75,267.75l3.5,3.5m0,-3.5l-3.5,3.5M312.75,262.75l3.5,3.5m0,-3.5l-3.5,3.5M312.75,282.75l3.5,3.5m0,-3.5l-3.5,3.5M314.75,283.75l3.5,3.5m0,-3.5l-3.5,3.5M302.75,299.75l3.5,3.5m0,-3.5l-3.5,3.5M332.75,240.75l3.5,3.5m0,-3.5l-3.5,3.5M303.75,278.75l3.5,3.5m0,-3.5l-3.5,3.5M329.75,256.75l3.5,3.5m0,-3.5l-3.5,3.5M294.75,289.75l3.5,3.5m0,-3.5l-3.5,3.5M298.75,295.75l3.5,3.5m0,-3.5l-3.5,3.5M308.75,269.75l3.5,3.5m0,-3.5l-3.5,3.5M289.75,296.75l3.5,3.5m0,-3.5l-3.5,3.5M315.75,260.75l3.5,3.5m0,-3.5l-3.5,3.5M300.75,295.75l3.5,3.5m0,-3.5l-3.5,3.5M284.75,299.75l3.5,3.5m0,-3.5l-3.5,3.5M297.75,288.75l3.5,3.5m0,-3.5l-3.5,3.5M288.75,295.75l3.5,3.5m0,-3.5l-3.5,3.5M328.75,253.75l3.5,3.5m0,-3.5l-3.5,3.5M324.75,241.75l3.5,3.5m0,-3.5l-3.5,3.5M325.75,278.75l3.5,3.5m0,-3.5l-3.5,3.5M295.75,282.75l3.5,3.5m0,-3.5l-3.5,3.5M293.75,300.75l3.5,3.5m0,-3.5l-3.5,3.5M324.75,240.75l3.5,3.5m0,-3.5l-3.5,3.5M294.75,290.75l3.5,3.5m0,-3.5l-3.5,3.5M300.75,298.75l3.5,3.5m0,-3.5l-3.5,3.5M313.75,291.75l3.5,3.5m0,-3.5l-3.5,3.5M318.75,250.75l3.5,3.5m0,-3.5l-3.5,3.5M325.75,274.75l3.5,3.5m0,-3.5l-3.5,3.5M300.75,267.75l3.5,3.5m0,-3.5l-3.5,3.5M327.75,266.75l3.5,3.5m0,-3.5l-3.5,3.5M307.75,281.75l3.5,3.5m0,-3.5l-3.5,3.5M315.75,255.75l3.5,3.5m0,-3.5l-3.5,3.5M285.75,298.75l3.5,3.5m0,-3.5l-3.5,3.5M333.75,246.75l3.5,3.5m0,-3.5l-3.5,3.5M304.75,288.75l3.5,3.5m0,-3.5l-3.5,3.5M296.75,287.75l3.5,3.5m0,-3.5l-3.5,3.5M311.75,263.75l3.5,3.5m0,-3.5l-3.5,3.5M309.75,287.75l3.5,3.5m0,-3.5l-3.5,3.5M294.75,297.75l3.5,3.5m0,-3.5l-3.5,3.5M331.75,247.75l3.5,3.5m0,-3.5l-3.5,3.5M308.75,277.75l3.5,3.5m0,-3.5l-3.5,3.5M347.75,246.75l3.5,3.5m0,-3.5l-3.5,3.5M306.75,280.75l3.5,3.5m0,-3.5l-3.5,3.5M293.75,300.75l3.5,3.5m0,-3.5l-3.5,3.5M303.75,288.75l3.5,3.5m0,-3.5l-3.5,3.5M298.75,292.75l3.5,3.5m0,-3.5l-3.5,3.5M317.75,275.75l3.5,3.5m0,-3.5l-3.5,3.5M295.75,277.75l3.5,3.5m0,-3.5l-3.5,3.5M296.75,277.75l3.5,3.5m0,-3.5l-3.5,3.5M298.75,285.75l3.5,3.5m0,-3.5l-3.5,3.5M286.75,298.75l3.5,3.5m0,-3.5l-3.5,3.5M296.75,290.75l3.5,3.5m0,-3.5l-3.5,3.5M310.75,283.75l3.5,3.5m0,-3.5l-3.5,3.5M337.75,246.75l3.5,3.5m0,-3.5l-3.5,3.5M285.75,299.75l3.5,3.5m0,-3.5l-3.5,3.5M316.75,273.75l3.5,3.5m0,-3.5l-3.5,3.5M328.75,243.75l3.5,3.5m0,-3.5l-3.5,3.5M333.75,258.75l3.5,3.5m0,-3.5l-3.5,3.5M294.75,300.75l3.5,3.5m0,-3.5l-3.5,3.5M321.75,266.75l3.5,3.5m0,-3.5l-3.5,3.5M327.75,241.75l3.5,3.5m0,-3.5l-3.5,3.5M302.75,277.75l3.5,3.5m0,-3.5l-3.5,3.5M319.75,254.75l3.5,3.5m0,-3.5l-3.5,3.5M302.75,296.75l3.5,3.5m0,-3.5l-3.5,3.5M293.75,285.75l3.5,3.5m0,-3.5l-3.5,3.5M291.75,297.75l3.5,3.5m0,-3.5l-3.5,3.5M325.75,267.75l3.5,3.5m0,-3.5l-3.5,3.5M313.75,272.75l3.5,3.5m0,-3.5l-3.5,3.5M302.75,284.75l3.5,3.5m0,-3.5l-3.5,3.5M317.75,268.75l3.5,3.5m0,-3.5l-3.5,3.5M321.75,244.75l3.5,3.5m0,-3.5l-3.5,3.5M296.75,291.75l3.5,3.5m0,-3.5l-3.5,3.5M328.75,239.75l3.5,3.5m0,-3.5l-3.5,3.5M283.75,298.75l3.5,3.5m0,-3.5l-3.5,3.5M303.75,274.75l3.5,3.5m0,-3.5l-3.5,3.5M290.75,287.75l3.5,3.5m0,-3.5l-3.5,3.5M318.75,266.75l3.5,3.5m0,-3.5l-3.5,3.5M286.75,300.75l3.5,3.5m0,-3.5l-3.5,3.5M290.75,281.75l3.5,3.5m0,-3.5l-3.5,3.5M298.75,296.75l3.5,3.5m0,-3.5l-3.5,3.5M320.75,253.75l3.5,3.5m0,-3.5l-3.5,3.5M286.75,289.75l3.5,3.5m0,-3.5l-3.5,3.5M326.75,237.75l3.5,3.5m0,-3.5l-3.5,3.5M305.75,298.75l3.5,3.5m0,-3.5l-3.5,3.5M294.75,293.75l3.5,3.5m0,-3.5l-3.5,3.5M324.75,238.75l3.5,3.5m0,-3.5l-3.5,3.5M307.75,277.75l3.5,3.5m0,-3.5l-3.5,3.5M306.75,283.75l3.5,3.5m0,-3.5l-3.5,3.5M317.75,266.75l3.5,3.5m0,-3.5l-3.5,3.5M300.75,282.75l3.5,3.5m0,-3.5l-3.5,3.5M297.75,295.75l3.5,3.5m0,-3.5l-3.5,3.5M288.75,300.75l3.5,3.5m0,-3.5l-3.5,3.5M334.75,252.75l3.5,3.5m0,-3.5l-3.5,3.5M333.75,268.75l3.5,3.5m0,-3.5l-3.5,3.5M298.75,286.75l3.5,3.5m0,-3.5l-3.5,3.5M302.75,300.75l3.5,3.5m0,-3.5l-3.5,3.5M284.75,298.75l3.5,3.5m0,-3.5l-3.5,3.5M309.75,261.75l3.5,3.5m0,-3.5l-3.5,3.5M303.75,289.75l3.5,3.5m0,-3.5l-3.5,3.5M297.75,298.75l3.5,3.5m0,-3.5l-3.5,3.5M299.75,285.75l3.5,3.5m0,-3.5l-3.5,3.5M342.75,248.75l3.5,3.5m0,-3.5l-3.5,3.5M305.75,300.75l3.5,3.5m0,-3.5l-3.5,3.5M304.75,288.75l3.5,3.5m0,-3.5l-3.5,3.5M283.75,297.75l3.5,3.5m0,-3.5l-3.5,3.5M329.75,244.75l3.5,3.5m0,-3.5l-3.5,3.5M284.75,289.75l3.5,3.5m0,-3.5l-3.5,3.5M306.75,284.75l3.5,3.5m0,-3.5l-3.5,3.5M301.75,294.75l3.5,3.5m0,-3.5l-3.5,3.5M323.75,260.75l3.5,3.5m0,-3.5l-3.5,3.5M293.75,288.75l3.5,3.5m0,-3.5l-3.5,3.5M326.75,238.75l3.5,3.5m0,-3.5l-3.5,3.5M313.75,258.75l3.5,3.5m0,-3.5l-3.5,3.5M298.75,287.75l3.5,3.5m0,-3.5l-3.5,3.5M319.75,257.75l3.5,3.5m0,-3.5l-3.5,3.5M332.75,243.75l3.5,3.5m0,-3.5l-3.5,3.5M301.75,283.75l3.5,3.5m0,-3.5l-3.5,3.5M312.75,280.75l3.5,3.5m0,-3.5l-3.5,3.5M333.75,246.75l3.5,3.5m0,-3.5l-3.5,3.5M328.75,265.75l3.5,3.5m0,-3.5l-3.5,3.5M323.75,252.75l3.5,3.5m0,-3.5l-3.5,3.5M290.75,281.75l3.5,3.5m0,-3.5l-3.5,3.5M291.75,283.75l3.5,3.5m0,-3.5l-3.5,3.5M293.75,294.75l3.5,3.5m0,-3.5l-3.5,3.5M285.75,297.75l3.5,3.5m0,-3.5l-3.5,3.5M283.75,298.75l3.5,3.5m0,-3.5l-3.5,3.5M329.75,238.75l3.5,3.5m0,-3.5l-3.5,3.5M331.75,250.75l3.5,3.5m0,-3.5l-3.5,3.5M289.75,299.75l3.5,3.5m0,-3.5l-3.5,3.5M303.75,279.75l3.5,3.5m0,-3.5l-3.5,3.5M287.75,287.75l3.5,3.5m0,-3.5l-3.5,3.5M319.75,266.75l3.5,3.5m0,-3.5l-3.5,3.5M324.75,261.75l3.5,3.5m0,-3.5l-3.5,3.5M283.75,293.75l3.5,3.5m0,-3.5l-3.5,3.5M321.75,249.75l3.5,3.5m0,-3.5l-3.5,3.5M308.75,288.75l3.5,3.5m0,-3.5l-3.5,3.5M319.75,259.75l3.5,3.5m0,-3.5l-3.5,3.5M299.75,294.75l3.5,3.5m0,-3.5l-3.5,3.5M298.75,299.75l3.5,3.5m0,-3.5l-3.5,3.5M293.75,283.75l3.5,3.5m0,-3.5l-3.5,3.5M309.75,287.75l3.5,3.5m0,-3.5l-3.5,3.5M294.75,292.75l3.5,3.5m0,-3.5l-3.5,3.5M310.75,280.75l3.5,3.5m0,-3.5l-3.5,3.5M288.75,300.75l3.5,3.5m0,-3.5l-3.5,3.5M296.75,296.75l3.5,3.5m0,-3.5l-3.5,3.5M293.75,279.75l3.5,3.5m0,-3.5l-3.5,3.5M320.75,245.75l3.5,3.5m0,-3.5l-3.5,3.5M321.75,256.75l3.5,3.5m0,-3.5l-3.5,3.5M336.75,246.75l3.5,3.5m0,-3.5l-3.5,3.5M317.75,270.75l3.5,3.5m0,-3.5l-3.5,3.5M292.75,291.75l3.5,3.5m0,-3.5l-3.5,3.5M296.75,295.75l3.5,3.5m0,-3.5l-3.5,3.5M288.75,286.75l3.5,3.5m0,-3.5l-3.5,3.5M288.75,290.75l3.5,3.5m0,-3.5l-3.5,3.5M284.75,299.75l3.5,3.5m0,-3.5l-3.5,3.5M301.75,299.75l3.5,3.5m0,-3.5l-3.5,3.5M301.75,289.75l3.5,3.5m0,-3.5l-3.5,3.5M319.75,279.75l3.5,3.5m0,-3.5l-3.5,3.5M312.75,274.75l3.5,3.5m0,-3.5l-3.5,3.5M316.75,267.75l3.5,3.5m0,-3.5l-3.5,3.5M318.75,263.75l3.5,3.5m0,-3.5l-3.5,3.5M301.75,281.75l3.5,3.5m0,-3.5l-3.5,3.5M335.75,244.75l3.5,3.5m0,-3.5l-3.5,3.5M292.75,284.75l3.5,3.5m0,-3.5l-3.5,3.5M300.75,279.75l3.5,3.5m0,-3.5l-3.5,3.5M331.75,252.75l3.5,3.5m0,-3.5l-3.5,3.5M293.75,294.75l3.5,3.5m0,-3.5l-3.5,3.5M317.75,259.75l3.5,3.5m0,-3.5l-3.5,3.5M334.75,266.75l3.5,3.5m0,-3.5l-3.5,3.5M331.75,265.75l3.5,3.5m0,-3.5l-3.5,3.5M333.75,268.75l3.5,3.5m0,-3.5l-3.5,3.5M322.75,278.75l3.5,3.5m0,-3.5l-3.5,3.5M324.75,263.75l3.5,3.5m0,-3.5l-3.5,3.5M320.75,287.75l3.5,3.5m0,-3.5l-3.5,3.5M307.75,294.75l3.5,3.5m0,-3.5l-3.5,3.5M337.75,269.75l3.5,3.5m0,-3.5l-3.5,3.5M316.75,292.75l3.5,3.5m0,-3.5l-3.5,3.5M324.75,288.75l3.5,3.5m0,-3.5l-3.5,3.5M316.75,271.75l3.5,3.5m0,-3.5l-3.5,3.5M311.75,282.75l3.5,3.5m0,-3.5l-3.5,3.5M322.75,284.75l3.5,3.5m0,-3.5l-3.5,3.5M322.75,277.75l3.5,3.5m0,-3.5l-3.5,3.5M323.75,266.75l3.5,3.5m0,-3.5l-3.5,3.5M326.75,267.75l3.5,3.5m0,-3.5l-3.5,3.5M324.75,269.75l3.5,3.5m0,-3.5l-3.5,3.5M311.75,284.75l3.5,3.5m0,-3.5l-3.5,3.5M330.75,268.75l3.5,3.5m0,-3.5l-3.5,3.5M318.75,271.75l3.5,3.5m0,-3.5l-3.5,3.5" stroke="#4481bb" stroke-width="1.05" fill="none"/>
<g fill="none" stroke="#b9424b" stroke-width="0.9"><circle cx="305.93" cy="259.00" r="1.8"/><circle cx="338.24" cy="217.20" r="1.8"/><circle cx="307.31" cy="254.67" r="1.8"/><circle cx="343.74" cy="209.13" r="1.8"/><circle cx="316.15" cy="252.64" r="1.8"/><circle cx="307.01" cy="261.48" r="1.8"/><circle cx="312.54" cy="256.38" r="1.8"/><circle cx="343.23" cy="218.12" r="1.8"/><circle cx="342.06" cy="215.63" r="1.8"/><circle cx="336.80" cy="212.25" r="1.8"/><circle cx="324.71" cy="245.09" r="1.8"/><circle cx="316.57" cy="260.00" r="1.8"/><circle cx="325.87" cy="241.54" r="1.8"/><circle cx="341.45" cy="211.59" r="1.8"/><circle cx="318.21" cy="255.25" r="1.8"/><circle cx="326.93" cy="227.70" r="1.8"/><circle cx="335.84" cy="232.86" r="1.8"/><circle cx="331.04" cy="224.70" r="1.8"/><circle cx="320.02" cy="237.30" r="1.8"/><circle cx="342.07" cy="213.32" r="1.8"/><circle cx="327.22" cy="242.11" r="1.8"/><circle cx="336.67" cy="230.32" r="1.8"/><circle cx="330.14" cy="240.43" r="1.8"/><circle cx="316.12" cy="245.67" r="1.8"/><circle cx="334.36" cy="220.66" r="1.8"/><circle cx="342.45" cy="207.77" r="1.8"/><circle cx="324.75" cy="230.58" r="1.8"/><circle cx="328.39" cy="236.94" r="1.8"/><circle cx="321.59" cy="251.73" r="1.8"/><circle cx="320.20" cy="254.67" r="1.8"/><circle cx="309.78" cy="260.44" r="1.8"/><circle cx="310.69" cy="251.86" r="1.8"/><circle cx="315.01" cy="260.45" r="1.8"/><circle cx="342.79" cy="214.11" r="1.8"/><circle cx="327.55" cy="227.89" r="1.8"/><circle cx="341.87" cy="209.15" r="1.8"/><circle cx="344.39" cy="211.75" r="1.8"/><circle cx="333.51" cy="228.19" r="1.8"/><circle cx="336.24" cy="226.85" r="1.8"/><circle cx="309.76" cy="259.32" r="1.8"/></g>
<g fill="none" stroke="#b9424b" stroke-width="0.9"><circle cx="434.20" cy="13.90" r="1.8"/><circle cx="440.80" cy="31.90" r="1.8"/><circle cx="435.30" cy="34.70" r="1.8"/><circle cx="442.00" cy="40.80" r="1.8"/><circle cx="446.00" cy="45.50" r="1.8"/><circle cx="427.10" cy="59.70" r="1.8"/><circle cx="422.90" cy="69.10" r="1.8"/><circle cx="418.80" cy="72.20" r="1.8"/><circle cx="410.20" cy="75.50" r="1.8"/><circle cx="415.00" cy="89.00" r="1.8"/><circle cx="410.70" cy="95.90" r="1.8"/><circle cx="407.20" cy="96.60" r="1.8"/><circle cx="398.90" cy="93.00" r="1.8"/><circle cx="396.60" cy="98.20" r="1.8"/><circle cx="401.30" cy="100.10" r="1.8"/><circle cx="403.20" cy="102.00" r="1.8"/><circle cx="390.70" cy="101.80" r="1.8"/><circle cx="396.60" cy="104.80" r="1.8"/><circle cx="388.80" cy="107.20" r="1.8"/><circle cx="378.90" cy="117.80" r="1.8"/><circle cx="390.70" cy="117.80" r="1.8"/><circle cx="386.00" cy="120.90" r="1.8"/><circle cx="402.50" cy="115.90" r="1.8"/><circle cx="397.80" cy="120.90" r="1.8"/><circle cx="402.00" cy="122.10" r="1.8"/><circle cx="397.30" cy="126.10" r="1.8"/><circle cx="389.50" cy="127.30" r="1.8"/><circle cx="388.80" cy="129.10" r="1.8"/><circle cx="380.00" cy="132.00" r="1.8"/><circle cx="385.50" cy="136.00" r="1.8"/><circle cx="380.00" cy="137.90" r="1.8"/><circle cx="387.10" cy="138.30" r="1.8"/><circle cx="383.60" cy="137.90" r="1.8"/><circle cx="385.40" cy="138.00" r="1.8"/><circle cx="388.30" cy="139.40" r="1.8"/><circle cx="386.90" cy="140.40" r="1.8"/><circle cx="384.20" cy="140.60" r="1.8"/><circle cx="381.80" cy="143.60" r="1.8"/><circle cx="381.60" cy="145.30" r="1.8"/><circle cx="388.30" cy="145.90" r="1.8"/><circle cx="398.30" cy="142.70" r="1.8"/><circle cx="394.20" cy="147.50" r="1.8"/><circle cx="395.20" cy="150.30" r="1.8"/><circle cx="382.20" cy="151.80" r="1.8"/><circle cx="377.50" cy="152.20" r="1.8"/><circle cx="386.90" cy="153.60" r="1.8"/><circle cx="372.40" cy="154.20" r="1.8"/><circle cx="366.80" cy="153.00" r="1.8"/><circle cx="364.50" cy="155.70" r="1.8"/><circle cx="378.30" cy="155.40" r="1.8"/><circle cx="378.90" cy="158.30" r="1.8"/><circle cx="368.90" cy="159.70" r="1.8"/><circle cx="381.80" cy="160.10" r="1.8"/><circle cx="386.50" cy="158.90" r="1.8"/><circle cx="378.30" cy="164.50" r="1.8"/><circle cx="371.20" cy="165.40" r="1.8"/><circle cx="365.70" cy="165.60" r="1.8"/><circle cx="360.60" cy="168.30" r="1.8"/><circle cx="358.90" cy="168.90" r="1.8"/><circle cx="355.40" cy="175.40" r="1.8"/><circle cx="357.20" cy="178.10" r="1.8"/><circle cx="352.40" cy="179.50" r="1.8"/><circle cx="348.90" cy="181.90" r="1.8"/><circle cx="350.70" cy="187.80" r="1.8"/><circle cx="358.00" cy="185.40" r="1.8"/><circle cx="358.30" cy="188.30" r="1.8"/><circle cx="363.60" cy="170.90" r="1.8"/><circle cx="370.90" cy="171.80" r="1.8"/><circle cx="367.10" cy="175.90" r="1.8"/><circle cx="371.90" cy="178.00" r="1.8"/><circle cx="370.10" cy="179.40" r="1.8"/><circle cx="361.20" cy="179.70" r="1.8"/><circle cx="354.70" cy="179.70" r="1.8"/><circle cx="371.90" cy="183.60" r="1.8"/><circle cx="361.20" cy="186.00" r="1.8"/><circle cx="363.60" cy="187.20" r="1.8"/><circle cx="351.20" cy="191.00" r="1.8"/><circle cx="358.30" cy="192.70" r="1.8"/><circle cx="365.70" cy="193.90" r="1.8"/><circle cx="361.20" cy="194.30" r="1.8"/><circle cx="350.60" cy="193.90" r="1.8"/><circle cx="363.00" cy="196.90" r="1.8"/><circle cx="370.70" cy="197.40" r="1.8"/><circle cx="353.00" cy="196.90" r="1.8"/><circle cx="343.50" cy="195.70" r="1.8"/><circle cx="341.80" cy="197.40" r="1.8"/><circle cx="347.10" cy="199.80" r="1.8"/><circle cx="355.90" cy="200.40" r="1.8"/><circle cx="361.20" cy="202.20" r="1.8"/><circle cx="351.80" cy="202.50" r="1.8"/><circle cx="356.50" cy="203.90" r="1.8"/><circle cx="331.30" cy="207.40" r="1.8"/><circle cx="334.80" cy="210.90" r="1.8"/><circle cx="337.80" cy="205.00" r="1.8"/><circle cx="338.90" cy="209.20" r="1.8"/><circle cx="333.00" cy="215.60" r="1.8"/><circle cx="338.30" cy="214.80" r="1.8"/><circle cx="320.10" cy="220.00" r="1.8"/><circle cx="331.90" cy="221.00" r="1.8"/><circle cx="336.60" cy="220.40" r="1.8"/><circle cx="326.50" cy="224.50" r="1.8"/><circle cx="330.70" cy="226.30" r="1.8"/><circle cx="335.40" cy="225.70" r="1.8"/><circle cx="325.40" cy="229.20" r="1.8"/><circle cx="328.90" cy="228.00" r="1.8"/><circle cx="333.00" cy="229.80" r="1.8"/><circle cx="324.80" cy="233.30" r="1.8"/><circle cx="337.20" cy="231.60" r="1.8"/><circle cx="343.80" cy="200.60" r="1.8"/><circle cx="351.50" cy="200.90" r="1.8"/><circle cx="345.00" cy="205.30" r="1.8"/><circle cx="350.90" cy="206.50" r="1.8"/><circle cx="353.30" cy="205.30" r="1.8"/><circle cx="340.90" cy="210.00" r="1.8"/><circle cx="347.40" cy="208.80" r="1.8"/><circle cx="351.50" cy="211.80" r="1.8"/><circle cx="354.50" cy="214.20" r="1.8"/><circle cx="340.30" cy="214.70" r="1.8"/><circle cx="343.80" cy="215.90" r="1.8"/><circle cx="352.70" cy="219.50" r="1.8"/><circle cx="356.20" cy="220.60" r="1.8"/><circle cx="343.80" cy="221.80" r="1.8"/><circle cx="349.70" cy="222.40" r="1.8"/><circle cx="339.70" cy="224.80" r="1.8"/><circle cx="336.20" cy="223.00" r="1.8"/><circle cx="349.70" cy="227.70" r="1.8"/><circle cx="345.60" cy="230.70" r="1.8"/><circle cx="343.30" cy="234.20" r="1.8"/><circle cx="319.80" cy="236.80" r="1.8"/><circle cx="322.70" cy="237.40" r="1.8"/><circle cx="313.30" cy="241.50" r="1.8"/><circle cx="313.90" cy="245.60" r="1.8"/><circle cx="306.80" cy="251.50" r="1.8"/><circle cx="310.30" cy="253.30" r="1.8"/><circle cx="305.60" cy="255.10" r="1.8"/><circle cx="304.40" cy="261.60" r="1.8"/><circle cx="326.30" cy="226.80" r="1.8"/><circle cx="326.90" cy="232.70" r="1.8"/><circle cx="328.60" cy="242.70" r="1.8"/><circle cx="322.10" cy="251.50" r="1.8"/><circle cx="325.70" cy="260.40" r="1.8"/><circle cx="299.90" cy="267.50" r="1.8"/><circle cx="306.50" cy="258.00" r="1.8"/><circle cx="297.60" cy="274.20" r="1.8"/><circle cx="291.70" cy="281.50" r="1.8"/><circle cx="286.60" cy="286.70" r="1.8"/><circle cx="287.30" cy="294.80" r="1.8"/><circle cx="306.50" cy="291.10" r="1.8"/><circle cx="311.70" cy="286.70" r="1.8"/><circle cx="317.60" cy="269.70" r="1.8"/><circle cx="336.50" cy="192.40" r="1.8"/><circle cx="338.30" cy="219.70" r="1.8"/><circle cx="344.20" cy="224.40" r="1.8"/><circle cx="351.20" cy="224.40" r="1.8"/><circle cx="354.20" cy="216.20" r="1.8"/><circle cx="341.20" cy="235.10" r="1.8"/><circle cx="347.10" cy="239.80" r="1.8"/><circle cx="337.70" cy="246.30" r="1.8"/></g>
<line x1="287.4" y1="305" x2="469.6" y2="0.5" stroke="#b8444c" stroke-width="1.3"/>
<line x1="287.6" y1="282.3" x2="563.3" y2="179.8" stroke="#4481bb" stroke-width="1.3"/>
<path d="M471.5,28.3 L476.9,33.3 M476.9,28.3 L471.5,33.3" stroke="#4481bb" stroke-width="1.1" fill="none"/>
<circle cx="474.2" cy="44.1" r="2.6" stroke="#b8444c" stroke-width="1.1" fill="none"/>
<text x="484" y="34.7" class="t">Day (r <tspan dy="-5" font-size="8">2</tspan><tspan dy="5" dx="-0.8"> = 0.48)</tspan></text>
<text x="484" y="47.6" class="t">Night (r<tspan dx="1.3" dy="-5" font-size="8">2</tspan><tspan dy="5" dx="1.5"> = 0.95)</tspan></text>
</svg></body></html>
